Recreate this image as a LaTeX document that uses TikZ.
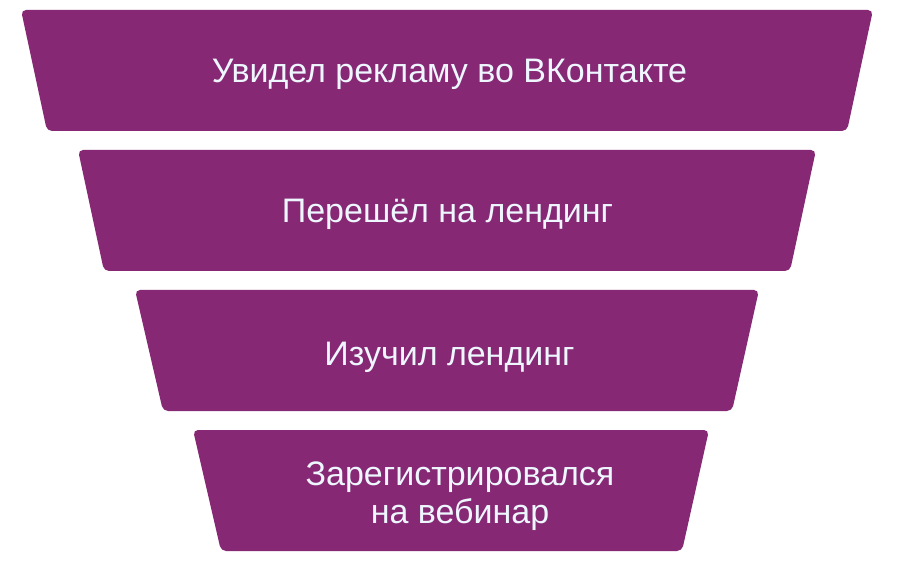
\documentclass[tikz,border=0pt]{standalone}
\usepackage{fontspec}
\setmainfont{Liberation Sans}
\definecolor{funnel}{HTML}{862873}
\definecolor{funneltext}{HTML}{EEF6FF}
\begin{document}
\begin{tikzpicture}[x=1pt,y=-1pt]
\tikzset{
  level/.style={fill=funnel, draw=none, rounded corners=5pt},
  label/.style={text=funneltext, inner sep=0pt, font=\fontsize{34}{38}\selectfont, align=center}
}
\useasboundingbox (0,0) rectangle (897,561);
\fill[white] (0,0) rectangle (897,561);
\path[level] (21,10) -- (873,10) -- (847,131) -- (47,131) -- cycle;
\path[level] (78,150) -- (816,150) -- (790,271) -- (104,271) -- cycle;
\path[level] (135,290) -- (759,290) -- (732,411) -- (163,411) -- cycle;
\path[level] (193,430) -- (709,430) -- (682,551) -- (221,551) -- cycle;
\node[label, anchor=base] (t1) at (449.5,83) {Увидел рекламу во ВКонтакте};
\node[label, anchor=base] (t2) at (447.5,223) {Перешёл на лендинг};
\node[label, anchor=base] (t3) at (449.5,365) {Изучил лендинг};
\node[label] (t4) at (460,496.5) {Зарегистрировался\\на вебинар};
\end{tikzpicture}
\end{document}
